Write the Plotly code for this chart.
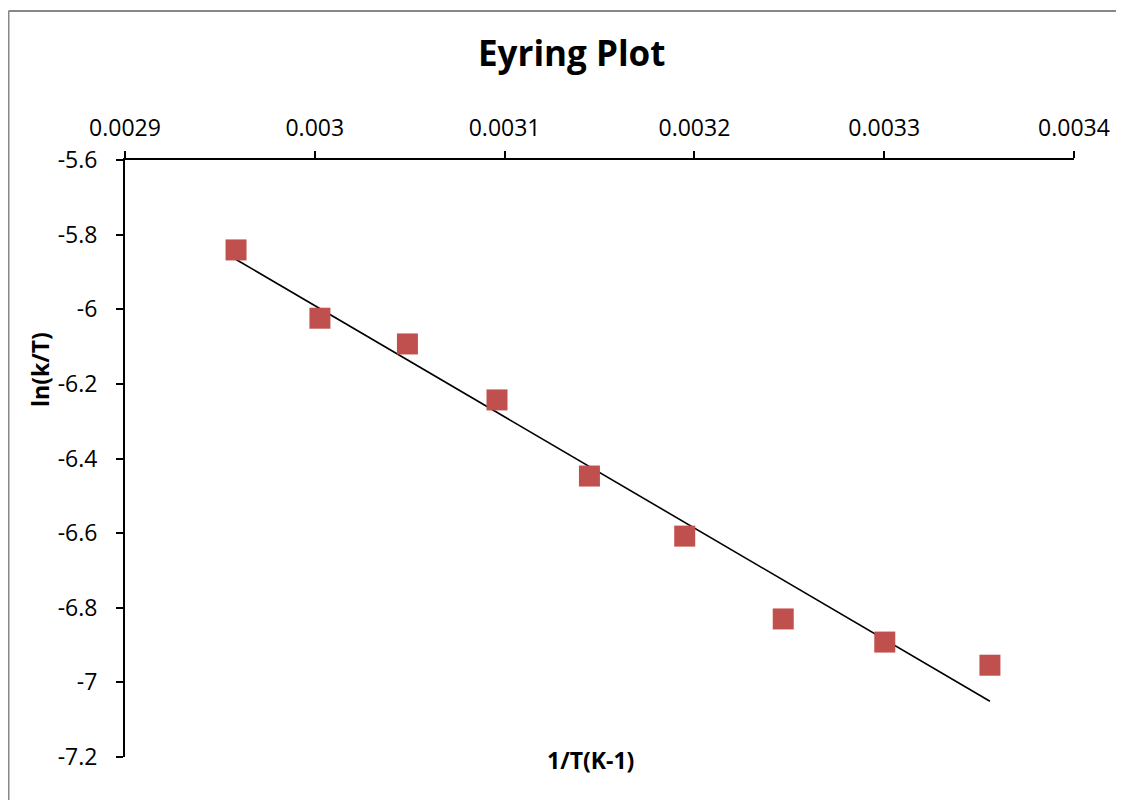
import numpy as np
import plotly.graph_objects as go

# Data
inv_T = [0.0029585, 0.0030027, 0.0030488, 0.0030960, 0.0031447,
         0.0031949, 0.0032468, 0.0033003, 0.0033557]
ln_k_T = [-5.841, -6.024, -6.093, -6.243, -6.447,
          -6.608, -6.830, -6.892, -6.954]

x_tick_vals = [0.0029, 0.0030, 0.0031, 0.0032, 0.0033, 0.0034]
x_tick_text = ["0.0029", "0.003", "0.0031", "0.0032", "0.0033", "0.0034"]
y_tick_vals = [-5.6, -5.8, -6.0, -6.2, -6.4, -6.6, -6.8, -7.0, -7.2]
y_tick_text = ["-5.6", "-5.8", "-6", "-6.2", "-6.4", "-6.6", "-6.8", "-7", "-7.2"]

# Linear trendline (least squares)
slope, intercept = np.polyfit(inv_T, ln_k_T, 1)
trend_x = [min(inv_T), max(inv_T)]
trend_y = [slope * v + intercept for v in trend_x]

FONT = "Open Sans"
OFF = 8  # browser body margin
W, H = 1124 - OFF, 800 - OFF
# target plot box in page pixels: x 125..1074, y 160..757
ML = 125 - OFF
MT = 160 - OFF
MR = W + OFF - 1074
MB = H + OFF - 757
PW, PH = W - ML - MR, H - MT - MB

fig = go.Figure()
fig.add_trace(go.Scatter(
    x=trend_x, y=trend_y, mode="lines",
    line=dict(color="black", width=1.6), showlegend=False, hoverinfo="skip"))
fig.add_trace(go.Scatter(
    x=inv_T, y=ln_k_T, mode="markers",
    marker=dict(symbol="square", size=21, color="#C0504D", line=dict(width=0)),
    showlegend=False))

def px_x(p):
    return (p - 125) / PW

def px_y(p):
    return (757 - p) / PH

fig.update_layout(
    width=W, height=H,
    margin=dict(l=ML, r=MR, t=MT, b=MB),
    paper_bgcolor="white", plot_bgcolor="white",
    font=dict(family=FONT, color="black", size=23),
    xaxis=dict(
        range=[0.0029, 0.0034], side="top",
        tickmode="array", tickvals=x_tick_vals, ticktext=x_tick_text,
        showline=True, linecolor="black", linewidth=2,
        ticks="outside", ticklen=7, tickwidth=2, tickcolor="black",
        showgrid=False, zeroline=False, ticklabelstandoff=6,
        ticklabeloverflow="allow",
        tickfont=dict(family=FONT, size=23, color="black"),
    ),
    yaxis=dict(
        range=[-7.2, -5.6],
        tickmode="array", tickvals=y_tick_vals, ticktext=y_tick_text,
        showline=True, linecolor="black", linewidth=2,
        ticks="outside", ticklen=7, tickwidth=2, tickcolor="black",
        showgrid=False, zeroline=False, ticklabelstandoff=14,
        ticklabeloverflow="allow",
        tickfont=dict(family=FONT, size=23, color="black"),
    ),
    annotations=[
        dict(text="<b>Eyring Plot</b>", x=px_x(571), y=px_y(52),
             xref="paper", yref="paper", showarrow=False,
             xanchor="center", yanchor="middle",
             font=dict(family=FONT, size=35, color="black")),
        dict(text="<b>1/T(K-1)</b>", x=px_x(590), y=px_y(760),
             xref="paper", yref="paper", showarrow=False,
             xanchor="center", yanchor="middle",
             font=dict(family=FONT, size=23, color="black")),
        dict(text="<b>ln(k/T)</b>", x=px_x(40), y=px_y(370),
             xref="paper", yref="paper", showarrow=False, textangle=-90,
             xanchor="center", yanchor="middle",
             font=dict(family=FONT, size=23, color="black")),
    ],
    shapes=[
        # chart-area border (only top and left edges fall inside the frame)
        dict(type="line", xref="paper", yref="paper",
             x0=px_x(8.5), x1=px_x(OFF + W), y0=px_y(11), y1=px_y(11),
             line=dict(color="#878787", width=2), layer="below"),
        dict(type="line", xref="paper", yref="paper",
             x0=px_x(8.5), x1=px_x(8.5), y0=px_y(11), y1=px_y(OFF + H),
             line=dict(color="#878787", width=2), layer="below"),
    ],
)

fig.write_html("out.html")
